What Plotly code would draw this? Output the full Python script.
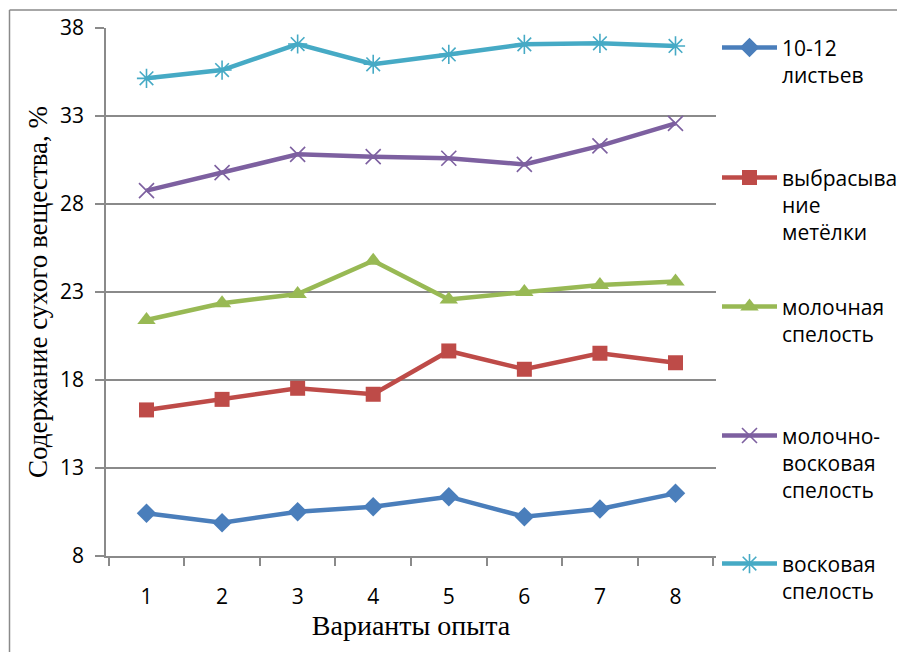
import plotly.graph_objects as go

categories = ["1", "2", "3", "4", "5", "6", "7", "8"]

series_names = [
    "10-12<br>листьев",
    "выбрасыва<br>ние<br>метёлки",
    "молочная<br>спелость",
    "молочно-<br>восковая<br>спелость",
    "восковая<br>спелость",
]

leaves_10_12 = [10.43, 9.89, 10.52, 10.80, 11.37, 10.23, 10.67, 11.56]
panicle = [16.30, 16.90, 17.53, 17.19, 19.65, 18.61, 19.52, 18.98]
milk = [21.41, 22.36, 22.89, 24.78, 22.58, 23.00, 23.40, 23.59]
milk_wax = [28.76, 29.78, 30.82, 30.69, 30.60, 30.25, 31.30, 32.58]
wax = [35.14, 35.61, 37.09, 35.94, 36.50, 37.07, 37.13, 36.98]

y_ticks = [8, 13, 18, 23, 28, 33, 38]

x_title = "Варианты опыта"
y_title = "Содержание сухого вещества, %"

values = [leaves_10_12, panicle, milk, milk_wax, wax]
colors = ["#4A7EBB", "#BE4B48", "#98B954", "#7D60A0", "#46AAC5"]
symbols = ["diamond", "square", "triangle-up", "x-thin-open", "asterisk-open"]
sizes = [15, 15, 16, 15, 16]
legend_ids = ["legend", "legend2", "legend3", "legend4", "legend5"]

# layout geometry (pixels); page body has an 8px margin, so shift by -8
OFF = 8
W, H = 905, 652
ML, MT = 106 - OFF, 28 - OFF
PW, PH = 610, 528
MR, MB = W - ML - PW, H - MT - PH


def px_x(p):
    return (p - OFF - ML) / PW


def px_y(p):
    return (MT + PH - (p - OFF)) / PH


fig = go.Figure()
for name, vals, col, sym, sz, lg in zip(series_names, values, colors, symbols, sizes, legend_ids):
    thin = sym.endswith("open")
    fig.add_trace(go.Scatter(
        x=categories, y=vals, name=name, legend=lg,
        mode="lines+markers",
        line=dict(color=col, width=4.5),
        marker=dict(symbol=sym, size=sz, color=col,
                    line=dict(color=col, width=1.6 if thin else 0)),
    ))

grid = "#8a8a8a"
sans = "Open Sans"
serif = "Liberation Serif"

legend_symbol_px = [49, 179, 308, 437, 565]
legend_layout = {}
for lg, py in zip(legend_ids, legend_symbol_px):
    legend_layout[lg] = dict(
        x=px_x(717), xanchor="left",
        y=px_y(py - 21.6), yanchor="top",
        valign="top", itemwidth=55,
        font=dict(family=sans, size=21, color="black"),
        bgcolor="rgba(0,0,0,0)",
    )

fig.update_layout(
    width=W, height=H,
    margin=dict(l=ML, r=MR, t=MT, b=MB, autoexpand=False),
    paper_bgcolor="white", plot_bgcolor="white",
    font=dict(family=sans, size=20, color="black"),
    showlegend=True,
    xaxis=dict(
        type="category", tickson="boundaries",
        ticks="outside", ticklen=8, tickcolor=grid, tickwidth=1.5,
        showline=True, linecolor=grid, linewidth=1.5,
        showgrid=False, zeroline=False, automargin=False,
        ticklabelstandoff=21,
        tickfont=dict(family=sans, size=21),
        title=dict(text=x_title, font=dict(family=serif, size=28), standoff=0),
    ),
    yaxis=dict(
        range=[8, 38], tickvals=y_ticks, ticktext=[str(v) for v in y_ticks],
        ticks="outside", ticklen=9, tickcolor=grid, tickwidth=1.5,
        showline=True, linecolor=grid, linewidth=1.5,
        showgrid=True, gridcolor=grid, gridwidth=1.5,
        zeroline=False, automargin=False,
        ticklabelstandoff=7,
        tickfont=dict(family=sans, size=21),
        title=dict(text=y_title, font=dict(family=serif, size=27), standoff=5),
    ),
    shapes=[
        dict(type="line", xref="paper", yref="paper",
             x0=px_x(9.5), x1=px_x(9.5), y0=px_y(10), y1=px_y(700),
             line=dict(color=grid, width=1.5)),
        dict(type="line", xref="paper", yref="paper",
             x0=px_x(9.5), x1=px_x(960), y0=px_y(10), y1=px_y(10),
             line=dict(color=grid, width=1.5)),
    ],
    **legend_layout,
)

fig.write_html("out.html")
